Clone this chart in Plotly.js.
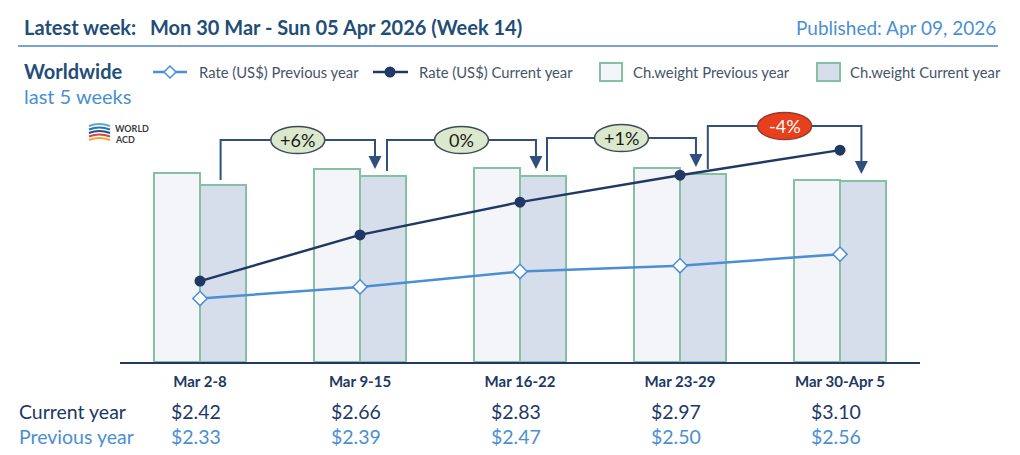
<!DOCTYPE html>
<html>
<head>
<meta charset="utf-8">
<script src="https://cdn.plot.ly/plotly-3.0.1.min.js"></script>
<style>html,body{margin:0;padding:0;background:#fff;}#chart{width:1020px;height:455px;}</style>
</head>
<body>
<div id="chart"></div>
<script>
// ---- data ----
const weeks = ['Mar 2-8', 'Mar 9-15', 'Mar 16-22', 'Mar 23-29', 'Mar 30-Apr 5'];
const rateCurrent = [2.42, 2.66, 2.83, 2.97, 3.10];
const ratePrevious = [2.33, 2.39, 2.47, 2.50, 2.56];
const weightPrevious = [189, 193, 194, 194, 182];
const weightCurrent = [177, 186, 186, 188, 181];
const weightChange = ['+6%', '0%', '+1%', '-4%'];

// ---- styling ----
const FONT = 'Lato, "Open Sans", sans-serif';
const NAVY = '#1f4e79';
const DARK = '#203864';
const LIGHT = '#4a8fd3';
const LEGTXT = '#44546a';
const BARLINE = '#86c0a4';
const W = 1020, H = 455, ML = 120, MR = 100, MT = 100, MB = 93;
const PW = W - ML - MR, PH = H - MT - MB;
const X = px => (px - ML) / PW;
const Y = py => (H - MB - py) / PH;

const idx = weeks.map((_, i) => i);
const halfBar = 0.14375;

const traces = [
  {type: 'bar', name: 'Ch.weight Previous year', x: idx, y: weightPrevious, yaxis: 'y',
   marker: {color: '#f4f5f8', line: {color: BARLINE, width: 2}}, hoverinfo: 'skip'},
  {type: 'bar', name: 'Ch.weight Current year', x: idx, y: weightCurrent, yaxis: 'y',
   marker: {color: '#d5deea', line: {color: BARLINE, width: 2}}, hoverinfo: 'skip'},
  {type: 'scatter', mode: 'lines+markers', name: 'Rate (US$) Previous year', x: idx, y: ratePrevious, yaxis: 'y2',
   line: {color: LIGHT, width: 2.5}, marker: {symbol: 'diamond', size: 11, color: '#ffffff', line: {color: LIGHT, width: 1.5}}},
  {type: 'scatter', mode: 'lines+markers', name: 'Rate (US$) Current year', x: idx, y: rateCurrent, yaxis: 'y2',
   line: {color: DARK, width: 2.5}, marker: {symbol: 'circle', size: 11, color: DARK}}
];

const shapes = [];
const annotations = [];

// header rule
shapes.push({type: 'line', xref: 'paper', yref: 'paper', x0: X(18), x1: X(998), y0: Y(46), y1: Y(46),
  line: {color: '#4f81c7', width: 1.5}});

// brackets with change labels
const lift = [36, 36, 36, 48];
const startShift = [-0.015, 0.025, 0.025, 0.03];
const endShift = [-0.05, -0.044, -0.044, -0.01];
weightChange.forEach((lab, i) => {
  const xs = i + halfBar + startShift[i];
  const xe = i + 1 + halfBar + endShift[i];
  const ys = weightCurrent[i] + 5;
  const tip = weightCurrent[i + 1] + 7;
  const lvl = Math.max(weightCurrent[i], weightCurrent[i + 1]) + lift[i];
  shapes.push({type: 'path', xref: 'x', yref: 'y',
    path: `M${xs},${ys} V${lvl} H${xe} V${tip + 10}`, line: {color: '#2f4f7f', width: 2}});
  shapes.push({type: 'path', xref: 'x', yref: 'y', xsizemode: 'pixel', ysizemode: 'pixel',
    xanchor: xe, yanchor: tip, path: 'M0,0 L-6.5,13 L6.5,13 Z', fillcolor: '#2f4f7f', line: {width: 0}});
  const neg = lab.startsWith('-');
  const xm = (xs + xe) / 2;
  shapes.push({type: 'circle', xref: 'x', yref: 'y', xsizemode: 'pixel', ysizemode: 'pixel',
    xanchor: xm, yanchor: lvl, x0: -27, x1: 27, y0: -13.5, y1: 13.5,
    fillcolor: neg ? '#e8401c' : '#dbe8cc', line: {color: neg ? '#9b3a2a' : '#3e4a5c', width: 1.5}});
  annotations.push({xref: 'x', yref: 'y', x: xm, y: lvl, text: lab, showarrow: false,
    font: {family: FONT, size: 18, color: neg ? '#ffffff' : '#1a1a1a'}});
});

// header texts
annotations.push({xref: 'paper', yref: 'paper', x: X(22), y: Y(27), xanchor: 'left', yanchor: 'middle', showarrow: false,
  text: '<b>Latest week:</b>', font: {family: FONT, size: 20, color: NAVY}});
annotations.push({xref: 'paper', yref: 'paper', x: X(148), y: Y(27), xanchor: 'left', yanchor: 'middle', showarrow: false,
  text: '<b>Mon 30 Mar - Sun 05 Apr 2026 (Week 14)</b>', font: {family: FONT, size: 20, color: NAVY}});
annotations.push({xref: 'paper', yref: 'paper', x: X(998), y: Y(27), xanchor: 'right', yanchor: 'middle', showarrow: false,
  text: 'Published: Apr 09, 2026', font: {family: FONT, size: 19, color: LIGHT}});
annotations.push({xref: 'paper', yref: 'paper', x: X(22), y: Y(71), xanchor: 'left', yanchor: 'middle', showarrow: false,
  text: '<b>Worldwide</b>', font: {family: FONT, size: 20, color: NAVY}});
annotations.push({xref: 'paper', yref: 'paper', x: X(22), y: Y(96), xanchor: 'left', yanchor: 'middle', showarrow: false,
  text: 'last 5 weeks', font: {family: FONT, size: 20, color: LIGHT}});

// manual legend
const legY = Y(72);
shapes.push({type: 'line', xref: 'paper', yref: 'paper', x0: X(153), x1: X(187), y0: legY, y1: legY, line: {color: LIGHT, width: 2.5}});
shapes.push({type: 'path', xref: 'paper', yref: 'paper', xsizemode: 'pixel', ysizemode: 'pixel', xanchor: X(170), yanchor: legY,
  path: 'M-6,0 L0,6 L6,0 L0,-6 Z', fillcolor: '#ffffff', line: {color: LIGHT, width: 1.5}});
shapes.push({type: 'line', xref: 'paper', yref: 'paper', x0: X(373), x1: X(408), y0: legY, y1: legY, line: {color: DARK, width: 2.5}});
shapes.push({type: 'circle', xref: 'paper', yref: 'paper', xsizemode: 'pixel', ysizemode: 'pixel', xanchor: X(390), yanchor: legY,
  x0: -5.5, x1: 5.5, y0: -5.5, y1: 5.5, fillcolor: DARK, line: {width: 0}});
shapes.push({type: 'rect', xref: 'paper', yref: 'paper', x0: X(600), x1: X(622), y0: Y(63), y1: Y(81),
  fillcolor: '#f4f5f8', line: {color: BARLINE, width: 2}});
shapes.push({type: 'rect', xref: 'paper', yref: 'paper', x0: X(817), x1: X(840), y0: Y(63), y1: Y(81),
  fillcolor: '#d5deea', line: {color: BARLINE, width: 2}});
[[197, traces[2].name], [417, traces[3].name], [631, traces[0].name], [848, traces[1].name]].forEach(([px, t]) => {
  annotations.push({xref: 'paper', yref: 'paper', x: X(px), y: legY, xanchor: 'left', yanchor: 'middle', showarrow: false,
    text: t, font: {family: FONT, size: 14.8, color: LEGTXT}});
});

// logo
const logoCols = ['#5aa9c9', '#2f6fb5', '#1f4e8c', '#d9443a', '#f0a540'];
logoCols.forEach((c, k) => {
  const y0 = 126 + k * 3.5;
  shapes.push({type: 'path', xref: 'paper', yref: 'paper', xsizemode: 'pixel', ysizemode: 'pixel',
    xanchor: X(89), yanchor: Y(y0), path: 'M0,0 Q10,4 21,0', line: {color: c, width: 2}});
});
annotations.push({xref: 'paper', yref: 'paper', x: X(113), y: Y(128), xanchor: 'left', yanchor: 'middle', showarrow: false,
  text: '<b>WORLD</b>', font: {family: FONT, size: 9, color: '#3d3d3d'}, height: 10});
annotations.push({xref: 'paper', yref: 'paper', x: X(113), y: Y(139), xanchor: 'left', yanchor: 'middle', showarrow: false,
  text: '<b>ACD</b>', font: {family: FONT, size: 9, color: '#3d3d3d'}, height: 10});

// bottom value rows
annotations.push({xref: 'paper', yref: 'paper', x: X(17), y: Y(411), xanchor: 'left', yanchor: 'middle', showarrow: false,
  text: 'Current year', font: {family: FONT, size: 19.5, color: DARK}});
annotations.push({xref: 'paper', yref: 'paper', x: X(17), y: Y(436), xanchor: 'left', yanchor: 'middle', showarrow: false,
  text: 'Previous year', font: {family: FONT, size: 19.5, color: LIGHT}});
idx.forEach(i => {
  annotations.push({xref: 'x', yref: 'paper', x: i, y: Y(411), xshift: -4, yanchor: 'middle', showarrow: false,
    text: '$' + rateCurrent[i].toFixed(2), font: {family: FONT, size: 19.5, color: DARK}});
  annotations.push({xref: 'x', yref: 'paper', x: i, y: Y(436), xshift: -4, yanchor: 'middle', showarrow: false,
    text: '$' + ratePrevious[i].toFixed(2), font: {family: FONT, size: 19.5, color: LIGHT}});
});

const layout = {
  width: W, height: H,
  margin: {l: ML, r: MR, t: MT, b: MB, pad: 0},
  paper_bgcolor: '#ffffff', plot_bgcolor: '#ffffff',
  showlegend: false,
  barmode: 'group', bargap: 0.425, bargroupgap: 0,
  font: {family: FONT},
  xaxis: {type: 'linear', range: [-0.5, 4.5], tickvals: idx, ticktext: weeks, showgrid: false, zeroline: false,
    showline: true, linecolor: '#1f3864', linewidth: 2, ticks: '', ticklabelstandoff: 5,
    tickfont: {family: FONT, size: 15, color: DARK, weight: 'bold'}, fixedrange: true},
  yaxis: {range: [0, PH], visible: false, fixedrange: true},
  yaxis2: {range: [2.0, 2.0 + PH / 192.6], overlaying: 'y', visible: false, fixedrange: true},
  shapes: shapes,
  annotations: annotations
};

Plotly.newPlot('chart', traces, layout, {displayModeBar: false, staticPlot: true});
</script>
</body>
</html>
